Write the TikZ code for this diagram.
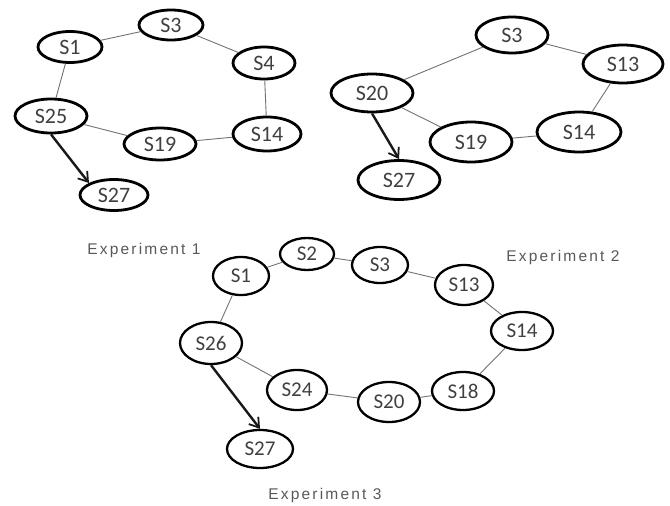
\documentclass[tikz,border=0pt]{standalone}
\usepackage{fontspec}
\setmainfont{Carlito}
\newfontfamily\labfont[LetterSpace=14]{Liberation Sans}
\usetikzlibrary{shapes.geometric,arrows.meta}
\begin{document}
\begin{tikzpicture}[x=1pt,y=-1pt,
  stA/.style args={#1/#2}{ellipse, draw=black, line width=2.8pt, minimum width=#1pt, minimum height=#2pt, inner sep=0pt, font=\fontsize{22}{22}\selectfont, text=black!75},
  stC/.style args={#1/#2}{ellipse, draw=black, line width=2.3pt, minimum width=#1pt, minimum height=#2pt, inner sep=0pt, font=\fontsize{21}{21}\selectfont, text=black!75},
  link/.style={draw=black!55, line width=0.9pt},
  flow/.style={draw=black!90, line width=2.4pt, -{Straight Barb[length=9pt,width=12pt,line width=1.8pt]}},
  caption/.style={font=\labfont\fontsize{15.5}{15.5}\selectfont, text=black!65}]
\useasboundingbox (0,0) rectangle (670,506);
\fill[white] (0,0) rectangle (670,506);
% Experiment 1
\node[stA=64/31] (a1) at (70,47) {S1};
\node[stA=64/30] (a3) at (171,25) {S3};
\node[stA=62/32] (a4) at (264,63) {S4};
\node[stA=72/34] (a25) at (51,116) {S25};
\node[stA=72/32] (a19) at (160,144) {S19};
\node[stA=68/34] (a14) at (267,134) {S14};
\node[stA=68/31] (a27) at (114,195) {S27};
\draw[link] (a1) -- (a3);
\draw[link] (a3) -- (a4);
\draw[link] (a4) -- (a14);
\draw[link] (a14) -- (a19);
\draw[link] (a19) -- (a25);
\draw[link] (a25) -- (a1);
\draw[flow] (a25.south) -- (a27.north west);
\node[caption] (c1) at (144,250) {Experiment 1};
% Experiment 2
\node[stA=72/36] (b3) at (512,35) {S3};
\node[stA=80/38] (b13) at (623,64) {S13};
\node[stA=82/38] (b20) at (372,93) {S20};
\node[stA=82/40] (b19) at (471,142) {S19};
\node[stA=84/40] (b14) at (579,132) {S14};
\node[stA=82/39] (b27) at (399,180) {S27};
\draw[link] (b20) -- (b3);
\draw[link] (b3) -- (b13);
\draw[link] (b13) -- (b14);
\draw[link] (b14) -- (b19);
\draw[link] (b19) -- (b20);
\draw[flow] (b20.south) -- (b27.north);
\node[caption] (c2) at (563,257) {Experiment 2};
% Experiment 3
\node[stC=56/38] (d1) at (241,276) {S1};
\node[stC=54/32] (d2) at (307,254) {S2};
\node[stC=56/36] (d3) at (380,265) {S3};
\node[stC=58/40] (d13) at (464,285) {S13};
\node[stC=62/38] (d14) at (522,331) {S14};
\node[stC=62/42] (d26) at (211,343) {S26};
\node[stC=60/40] (d24) at (297,390) {S24};
\node[stC=62/40] (d20) at (389,402) {S20};
\node[stC=62/38] (d18) at (463,391) {S18};
\node[stC=66/38] (d27) at (260,449) {S27};
\draw[link] (d1) -- (d2);
\draw[link] (d2) -- (d3);
\draw[link] (d3) -- (d13);
\draw[link] (d13) -- (d14);
\draw[link] (d14) -- (d18);
\draw[link] (d18) -- (d20);
\draw[link] (d20) -- (d24);
\draw[link] (d24) -- (d26);
\draw[link] (d26) -- (d1);
\draw[flow] (d26.south) -- (d27.north);
\node[caption] (c3) at (325,495) {Experiment 3};
\end{tikzpicture}
\end{document}
